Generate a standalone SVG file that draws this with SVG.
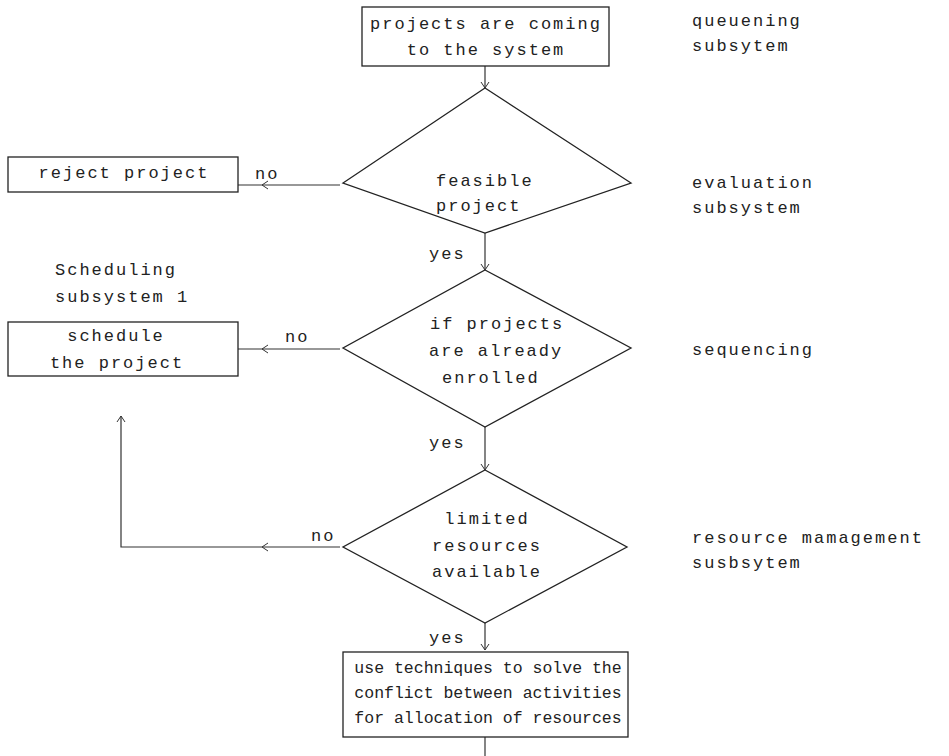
<svg xmlns="http://www.w3.org/2000/svg" width="949" height="756" viewBox="0 0 949 756">
<style>
.t{font-family:"Liberation Mono",monospace;font-size:17px;fill:#222;letter-spacing:2px}
.tb{font-family:"Liberation Mono",monospace;font-size:16.5px;fill:#222;letter-spacing:0}
.m{text-anchor:middle}
.box{fill:none;stroke:#222;stroke-width:1.3}
.ln{fill:none;stroke:#333;stroke-width:1.2}
.ah{fill:none;stroke:#333;stroke-width:1}
</style>
<rect width="949" height="756" fill="#fff"/>
<g id="connectors">
  <line class="ln" x1="485" y1="66" x2="485" y2="88"/>
  <path class="ah" d="M481,82 L485,88 L489,82"/>
  <line class="ln" x1="340" y1="185" x2="238" y2="185"/>
  <path class="ah" d="M268,181 L262,185 L268,189"/>
  <line class="ln" x1="485" y1="233" x2="485" y2="270"/>
  <path class="ah" d="M481,264 L485,270 L489,264"/>
  <line class="ln" x1="340" y1="349" x2="238" y2="349"/>
  <path class="ah" d="M268,345 L262,349 L268,353"/>
  <line class="ln" x1="485" y1="427" x2="485" y2="470"/>
  <path class="ah" d="M481,464 L485,470 L489,464"/>
  <polyline class="ln" points="340,547 121,547 121,416"/>
  <path class="ah" d="M268,543 L262,547 L268,551"/>
  <path class="ah" d="M117,422 L121,416 L125,422"/>
  <line class="ln" x1="485" y1="623" x2="485" y2="650"/>
  <path class="ah" d="M481,644 L485,650 L489,644"/>
  <line class="ln" x1="485" y1="737" x2="485" y2="756"/>
  <text class="t" x="255" y="179">no</text>
  <text class="t" x="285" y="342">no</text>
  <text class="t" x="311" y="541">no</text>
  <text class="t" x="429" y="259">yes</text>
  <text class="t" x="429" y="448">yes</text>
  <text class="t" x="429" y="643">yes</text>
</g>
<g id="start">
  <rect class="box" x="362" y="7" width="247" height="59"/>
  <text class="t m" x="486" y="29">projects are coming</text>
  <text class="t m" x="486" y="55">to the system</text>
</g>
<g id="feasible">
  <polygon class="box" points="485,88 631,183 485,233 343,183"/>
  <text class="t" x="436" y="186">feasible</text>
  <text class="t" x="436" y="211">project</text>
</g>
<g id="reject">
  <rect class="box" x="8" y="157" width="230" height="35"/>
  <text class="t m" x="124" y="178">reject project</text>
</g>
<g id="enrolled">
  <polygon class="box" points="485,270 631,348 485,427 343,348"/>
  <text class="t" x="430" y="329">if projects</text>
  <text class="t" x="429" y="356">are already</text>
  <text class="t" x="442" y="383">enrolled</text>
</g>
<g id="schedule">
  <text class="t" x="55" y="275">Scheduling</text>
  <text class="t" x="55" y="302">subsystem 1</text>
  <rect class="box" x="8" y="322" width="230" height="54"/>
  <text class="t m" x="116" y="341">schedule</text>
  <text class="t m" x="117" y="368">the  project</text>
</g>
<g id="resources">
  <polygon class="box" points="485,470 627,547 485,623 343,547"/>
  <text class="t m" x="487" y="524">limited</text>
  <text class="t m" x="487" y="551">resources</text>
  <text class="t m" x="487" y="577">available</text>
</g>
<g id="techniques">
  <rect class="box" x="343" y="652" width="285" height="85"/>
  <text class="tb m" x="488" y="673">use techniques to solve the</text>
  <text class="tb m" x="488" y="698">conflict between activities</text>
  <text class="tb m" x="488" y="723">for allocation of resources</text>
</g>
<g id="side-labels">
  <text class="t" x="692" y="26">queuening</text>
  <text class="t" x="692" y="51">subsytem</text>
  <text class="t" x="692" y="188">evaluation</text>
  <text class="t" x="692" y="213">subsystem</text>
  <text class="t" x="692" y="355">sequencing</text>
  <text class="t" x="692" y="543">resource mamagement</text>
  <text class="t" x="692" y="568">susbsytem</text>
</g>
</svg>
